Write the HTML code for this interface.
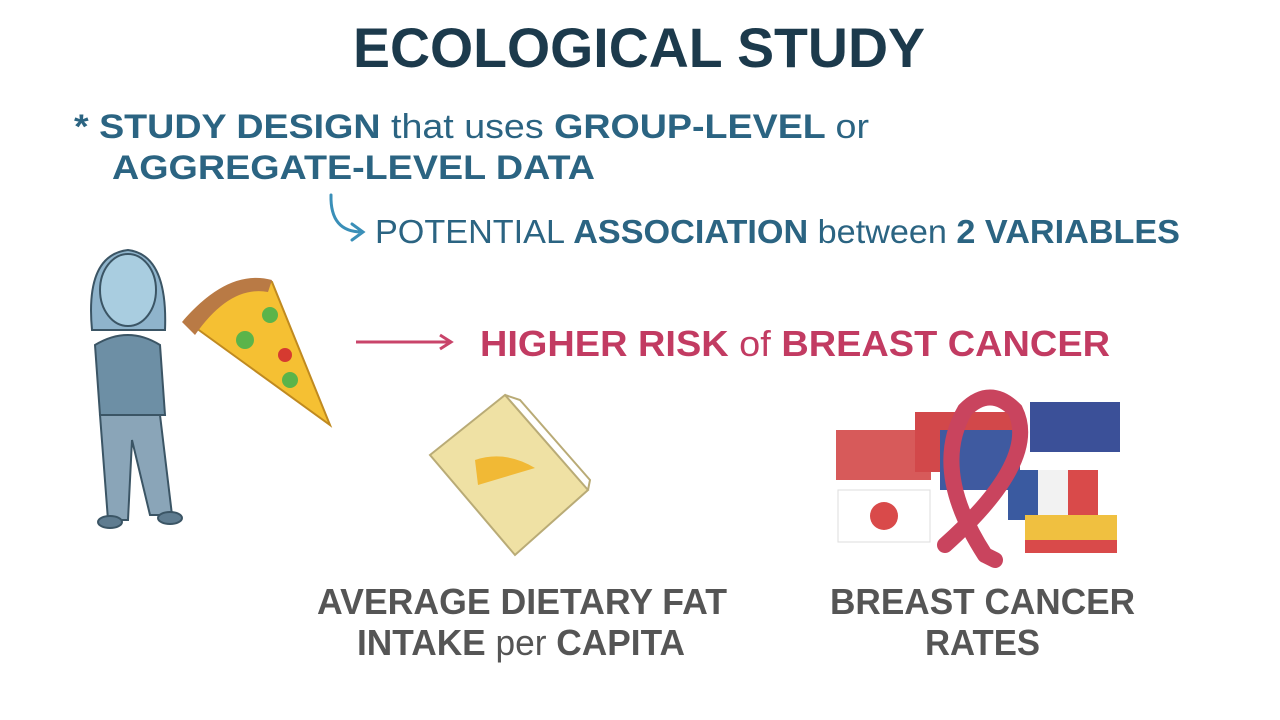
<!DOCTYPE html>
<html><head><meta charset="utf-8"><style>
html,body{margin:0;padding:0;background:#fff;}
svg{display:block;}
text{font-family:"Liberation Sans",sans-serif;font-weight:bold;}
</style></head><body>
<svg width="1280" height="720" viewBox="0 0 1280 720">
<rect width="1280" height="720" fill="#fff"/>
<text x="353" y="67" font-size="56" fill="#1c3a4c" textLength="572" lengthAdjust="spacingAndGlyphs">ECOLOGICAL STUDY</text>
<g fill="#2b6482">
<text x="74" y="138" font-size="34" textLength="795" lengthAdjust="spacingAndGlyphs">* STUDY DESIGN <tspan font-weight="normal">that uses</tspan> GROUP-LEVEL <tspan font-weight="normal">or</tspan></text>
<text x="112" y="179" font-size="34" textLength="483" lengthAdjust="spacingAndGlyphs">AGGREGATE-LEVEL DATA</text>
</g>
<path d="M331 195 Q330 232 362 232 M352 224 L363 232 L352 240" stroke="#3a8fb8" stroke-width="3" fill="none" stroke-linecap="round"/>
<text x="375" y="243" font-size="33" fill="#2b6482" textLength="805" lengthAdjust="spacingAndGlyphs"><tspan font-weight="normal">POTENTIAL</tspan> ASSOCIATION <tspan font-weight="normal">between</tspan> 2 VARIABLES</text>
<!-- person -->
<g stroke="#3b5565" stroke-width="2">
<path d="M92 330 Q85 255 128 250 Q168 255 165 330 Z" fill="#8fb4cc"/>
<ellipse cx="128" cy="290" rx="28" ry="36" fill="#a9cde0"/>
<path d="M95 345 Q128 325 160 345 L165 415 L100 415 Z" fill="#6d8fa5"/>
<path d="M100 415 L160 415 L172 515 L150 515 L132 440 L128 520 L108 520 Z" fill="#8aa5b8"/>
<ellipse cx="110" cy="522" rx="12" ry="6" fill="#5f7c90"/>
<ellipse cx="170" cy="518" rx="12" ry="6" fill="#5f7c90"/>
</g>
<!-- pizza -->
<g>
<path d="M185 320 Q230 270 272 282 L330 425 Z" fill="#f5c033" stroke="#c08a20" stroke-width="2"/>
<path d="M182 322 Q228 268 272 280 L268 292 Q230 285 195 335 Z" fill="#b97a45"/>
<circle cx="245" cy="340" r="9" fill="#5bb44a"/><circle cx="270" cy="315" r="8" fill="#5bb44a"/>
<circle cx="285" cy="355" r="7" fill="#d63a30"/><circle cx="290" cy="380" r="8" fill="#5bb44a"/>
</g>
<path d="M356 342 L450 342 M440 335 L451 342 L440 349" stroke="#c9446a" stroke-width="3" fill="none"/>
<text x="480" y="356" font-size="36" fill="#c23b62" textLength="630" lengthAdjust="spacingAndGlyphs">HIGHER RISK <tspan font-weight="normal">of</tspan> BREAST CANCER</text>
<!-- folder -->
<g>
<path d="M430 455 L505 395 L588 490 L515 555 Z" fill="#efe1a4" stroke="#b9ab76" stroke-width="2"/>
<path d="M505 395 L520 400 L590 480 L588 490" fill="none" stroke="#b9ab76" stroke-width="2"/>
<path d="M475 460 Q505 450 535 468 L478 485 Z" fill="#f1b935"/>
</g>
<!-- flags -->
<g>
<rect x="836" y="430" width="95" height="50" fill="#d75a5a"/>
<rect x="838" y="490" width="92" height="52" fill="#fff" stroke="#ddd"/>
<circle cx="884" cy="516" r="14" fill="#d94a4a"/>
<rect x="915" y="412" width="100" height="60" fill="#d2484a"/>
<rect x="940" y="430" width="80" height="60" fill="#3f5aa0"/>
<rect x="1030" y="402" width="90" height="50" fill="#3b5098"/>
<rect x="1008" y="470" width="90" height="50" fill="#f2f2f2"/>
<rect x="1008" y="470" width="30" height="50" fill="#3a5aa0"/>
<rect x="1068" y="470" width="30" height="50" fill="#d94a4a"/>
<rect x="1025" y="515" width="92" height="38" fill="#f0c040"/>
<rect x="1025" y="540" width="92" height="13" fill="#d94a4a"/>
<path d="M985 555 Q930 470 965 410 Q990 385 1015 410 Q1040 460 945 545 M985 555 L995 560" fill="none" stroke="#c9445e" stroke-width="16" stroke-linecap="round"/>
</g>
<g fill="#555">
<text x="317" y="614" font-size="36" textLength="410" lengthAdjust="spacingAndGlyphs">AVERAGE DIETARY FAT</text>
<text x="357" y="655" font-size="36" textLength="328" lengthAdjust="spacingAndGlyphs">INTAKE <tspan font-weight="normal">per</tspan> CAPITA</text>
<text x="830" y="614" font-size="36" textLength="305" lengthAdjust="spacingAndGlyphs">BREAST CANCER</text>
<text x="925" y="655" font-size="36" textLength="115" lengthAdjust="spacingAndGlyphs">RATES</text>
</g>
</svg>
</body></html>
